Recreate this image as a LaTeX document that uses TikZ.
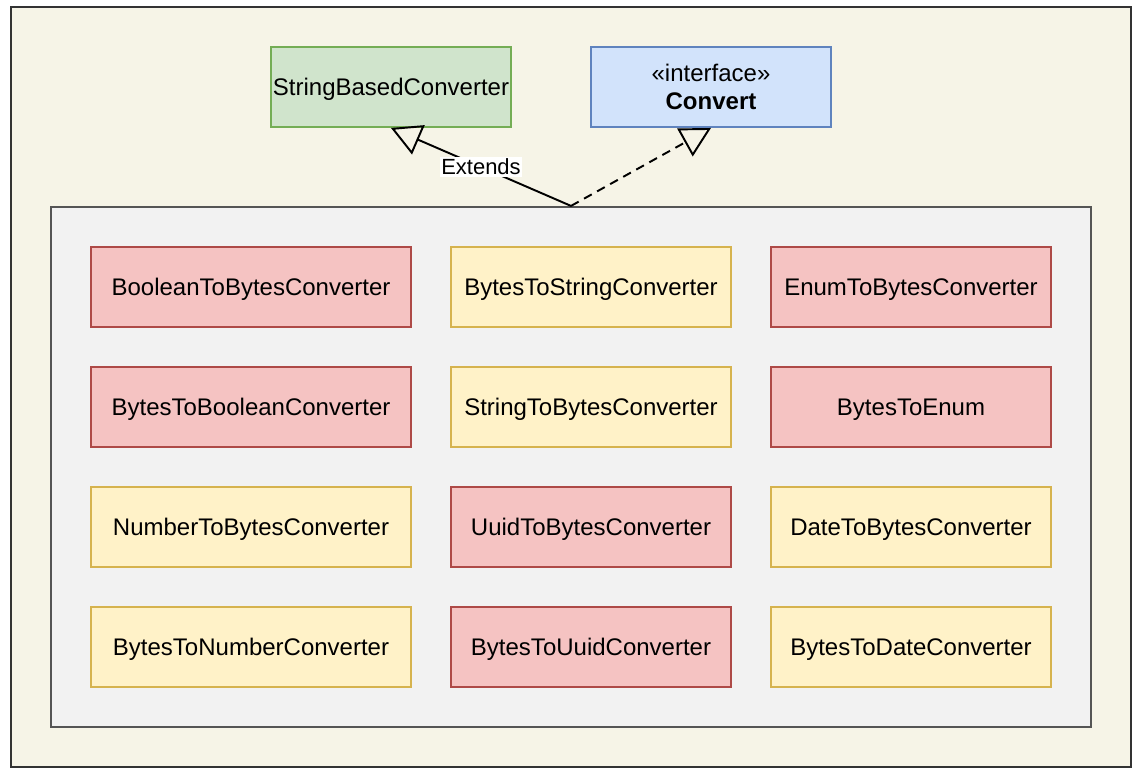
\documentclass[tikz,border=0pt]{standalone}
\usepackage{fontspec}
\setmainfont{Liberation Sans}
\usetikzlibrary{positioning}
\usetikzlibrary{arrows.meta}
\definecolor{bgfill}{HTML}{F6F4E7}
\definecolor{bgline}{HTML}{333333}
\definecolor{pkgfill}{HTML}{F2F2F2}
\definecolor{pkgline}{HTML}{555555}
\definecolor{redfill}{HTML}{F5C3C2}
\definecolor{redline}{HTML}{AE4A47}
\definecolor{yellowfill}{HTML}{FFF2C8}
\definecolor{yellowline}{HTML}{D6B34E}
\definecolor{greenfill}{HTML}{D0E4CC}
\definecolor{greenline}{HTML}{74AD55}
\definecolor{bluefill}{HTML}{D2E3FB}
\definecolor{blueline}{HTML}{5F83BE}

\begin{document}
\begin{tikzpicture}[x=0.02cm,y=-0.02cm]
\tikzstyle{boxfont} =[font=\fontsize{13.66}{15.4}\selectfont]
\tikzstyle{classbox} =[rectangle,boxfont,line width=1.1pt,inner sep=0pt,minimum height=1.6cm,minimum width=5.6cm]
\tikzstyle{redbox} =[classbox,draw=redline,fill=redfill,text depth=0pt]
\tikzstyle{yellowbox} =[classbox,draw=yellowline,fill=yellowfill,text depth=0pt]
\tikzstyle{wide} =[minimum width=6.4cm]
\tikzstyle{extends} =[line width=1.1pt,-{Triangle[open,length=17pt,width=18pt]}]
\tikzstyle{implements} =[extends,dash pattern=on 5pt off 3.5pt]
\useasboundingbox (0,0) rectangle (1142,772);

\node[rectangle,draw=bgline,fill=bgfill,line width=1.4pt,minimum width=22.4cm,minimum height=15.2cm](frame) at (571,387){};
\node[rectangle,draw=pkgline,fill=pkgfill,line width=1.3pt,minimum width=20.8cm,minimum height=10.4cm](pkg) at (571,467){};

\node[classbox,minimum width=4.8cm,draw=greenline,fill=greenfill,text depth=0pt](sbc) at (391,87){StringBasedConverter};
\node[classbox,minimum width=4.8cm,draw=blueline,fill=bluefill,align=center](conv) at (711,87){\guillemotleft interface\guillemotright\\[0.5pt]\textbf{Convert}};

\node[redbox,wide](boolbytes) at (251,287){BooleanToBytesConverter};
\node[yellowbox](bytesstr) at (591,287){BytesToStringConverter};
\node[redbox](enumbytes) at (911,287){EnumToBytesConverter};

\node[redbox,wide](bytesbool) at (251,407){BytesToBooleanConverter};
\node[yellowbox](strbytes) at (591,407){StringToBytesConverter};
\node[redbox](bytesenum) at (911,407){BytesToEnum};

\node[yellowbox,wide](numbytes) at (251,527){NumberToBytesConverter};
\node[redbox](uuidbytes) at (591,527){UuidToBytesConverter};
\node[yellowbox](datebytes) at (911,527){DateToBytesConverter};

\node[yellowbox,wide](bytesnum) at (251,647){BytesToNumberConverter};
\node[redbox](bytesuuid) at (591,647){BytesToUuidConverter};
\node[yellowbox](bytesdate) at (911,647){BytesToDateConverter};

\draw[extends] (pkg.north)--(sbc.south) node[midway,fill=white,inner sep=1pt,font=\fontsize{12.5}{14}\selectfont](ext){Extends};
\draw[implements] (pkg.north)--(conv.south);
\end{tikzpicture}
\end{document}
